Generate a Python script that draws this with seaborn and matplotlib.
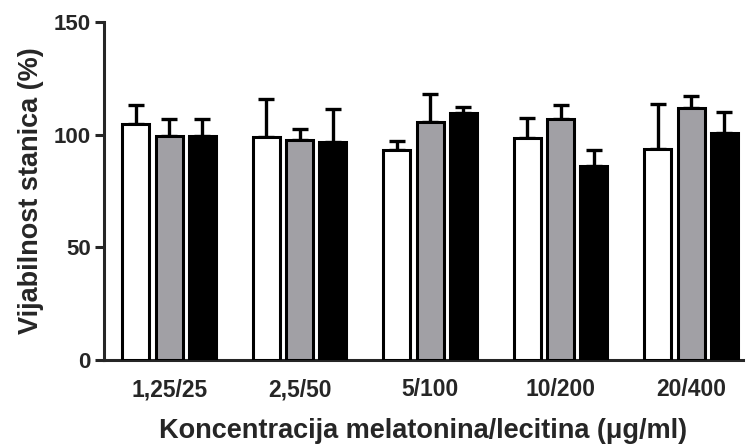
import matplotlib
matplotlib.use("Agg")
import matplotlib.pyplot as plt
import seaborn as sns
import numpy as np
import pandas as pd

# concentrations (melatonin/lecithin, ug/ml)
groups = ['1,25/25', '2,5/50', '5/100', '10/200', '20/400']
series_names = ['S1', 'S2', 'S3']
box_colors = ['#FFFFFF', '#A1A0A5', '#000000']

# mean viability (%) per series
s1_mean = [104.6, 98.8, 93.2, 98.6, 93.7]
s2_mean = [99.4, 97.6, 105.6, 107.1, 112.0]
s3_mean = [99.4, 96.9, 109.8, 86.0, 100.9]

# upper error (SD)
s1_err = [8.6, 17.2, 4.1, 8.9, 19.9]
s2_err = [7.7, 5.1, 12.6, 6.1, 5.0]
s3_err = [7.7, 14.6, 2.7, 7.3, 9.2]

means = [s1_mean, s2_mean, s3_mean]
errs = [s1_err, s2_err, s3_err]

rows = []
for name, vals in zip(series_names, means):
    for g, v in zip(groups, vals):
        rows.append({'group': g, 'series': name, 'value': v})
df = pd.DataFrame(rows)

sns.set_style('ticks')
plt.rcParams['font.family'] = ['Liberation Sans', 'DejaVu Sans']
plt.rcParams['font.weight'] = 'bold'

fig = plt.figure(figsize=(7.47, 4.48), dpi=100)
ax = fig.add_axes([0.139, 0.196, 0.856, 0.755])

sns.barplot(data=df, x='group', y='value', hue='series', order=groups,
            hue_order=series_names, palette=box_colors, width=0.765, gap=0.19,
            errorbar=None, edgecolor='black', linewidth=2.2, legend=False,
            saturation=1, ax=ax)

for container, m, e in zip(ax.containers, means, errs):
    xs = [b.get_x() + b.get_width() / 2 for b in container]
    for b in container:
        b.set_zorder(3)
    ax.errorbar(xs, m, yerr=[np.zeros(len(e)), e], fmt='none', ecolor='black',
                elinewidth=2.4, capsize=5.8, capthick=2.4, zorder=2)

ax.set_ylim(0, 150)
ax.set_xlim(-0.5, 4.4)
ax.set_yticks([0, 50, 100, 150])
ax.tick_params(axis='y', length=6.5, width=2.2, labelsize=16, pad=3)
ax.tick_params(axis='x', length=0, labelsize=16.5, pad=13)
for lab in ax.get_xticklabels() + ax.get_yticklabels():
    lab.set_fontweight('bold')

for side in ['left', 'bottom']:
    ax.spines[side].set_linewidth(2.2)
sns.despine(ax=ax)

ax.set_xlabel('Koncentracija melatonina/lecitina (\u03bcg/ml)', fontsize=19.5,
              fontweight='bold', labelpad=12)
ax.set_ylabel('Vijabilnost stanica (%)', fontsize=19.5, fontweight='bold', labelpad=7)

fig.savefig('out.png', dpi=100)
